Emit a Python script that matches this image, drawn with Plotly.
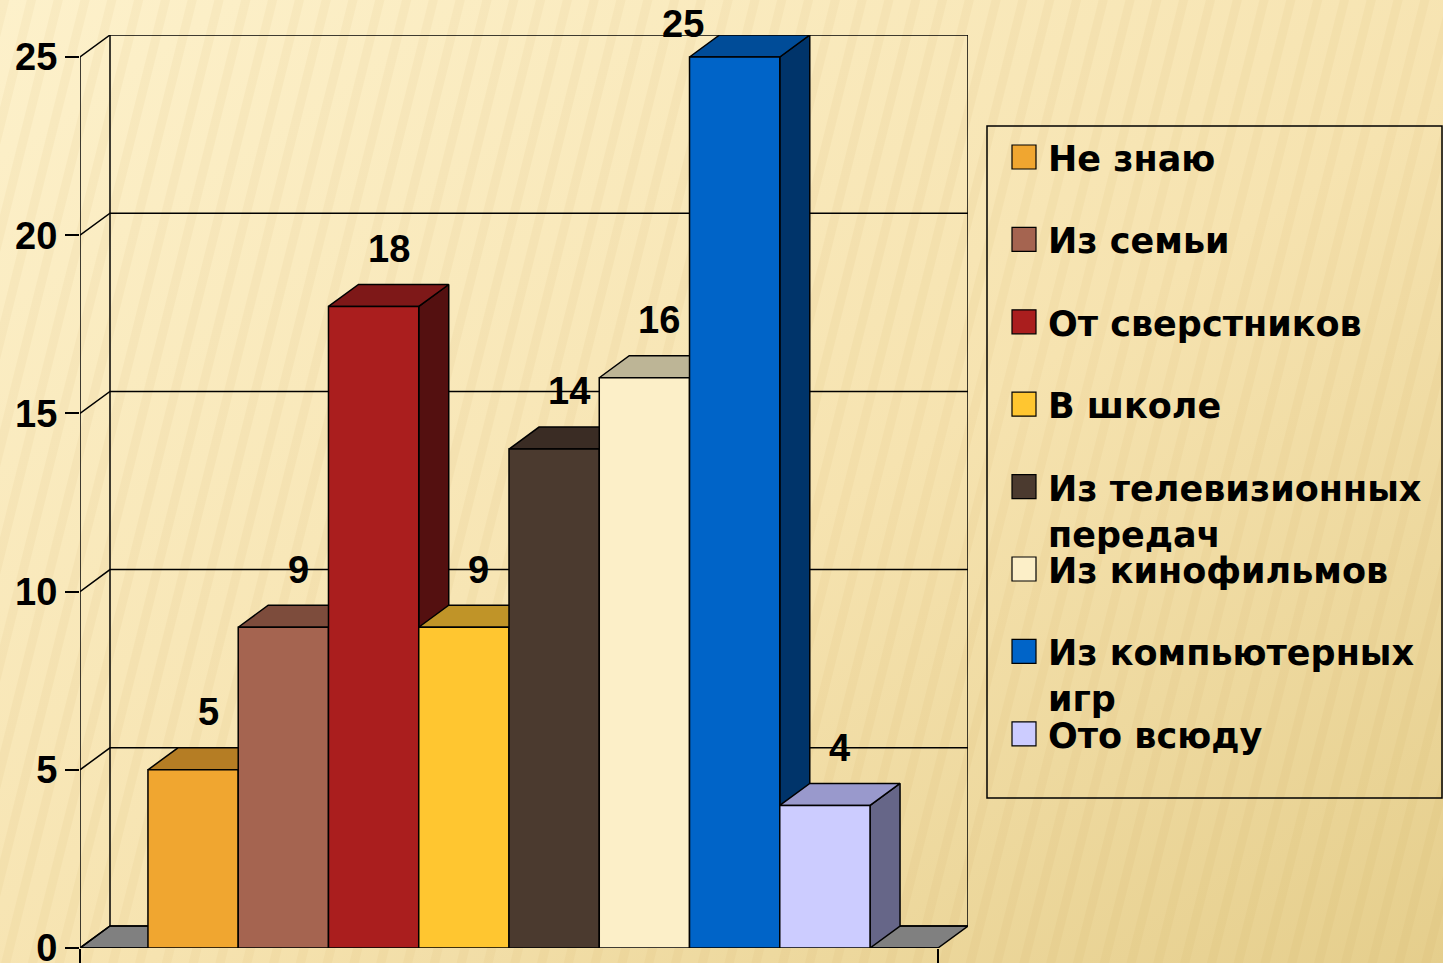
import base64
import plotly.graph_objects as go

# ---------------- data ----------------
categories = ["Не знаю", "Из семьи", "От сверстников", "В школе",
              "Из телевизионных передач", "Из кинофильмов",
              "Из компьютерных игр", "Ото всюду"]
values = [5, 9, 18, 9, 14, 16, 25, 4]
legend_lines = ["Не знаю", "Из семьи", "От сверстников", "В школе",
                "Из телевизионных<br>передач", "Из кинофильмов",
                "Из компьютерных<br>игр", "Ото всюду"]
y_ticks = [0, 5, 10, 15, 20, 25]

front_colors = ["#F0A630", "#A56450", "#AA1E1E", "#FFC630",
                "#4B3A2F", "#FCEFC8", "#0064C8", "#CCCCFF"]
top_colors = ["#B57D24", "#7D4C3C", "#7E1818", "#C09428",
              "#3A2C24", "#BDB596", "#004C98", "#9999CC"]
side_colors = ["#8A5E1A", "#5E392D", "#541010", "#906E1E",
               "#2A201A", "#8E8870", "#00346A", "#666688"]

# ---------------- geometry (style) ----------------
FONT = "Arial, Liberation Sans, sans-serif"
LEG_FONT = "DejaVu Sans, Verdana, sans-serif"
n = len(values)
gap = 0.753          # space between axis and first / last bar (in bar widths)
dx, dy = 0.3324, 0.617   # depth offset of the 3-D box
x0, x1 = -0.5 - gap, n - 0.5 + gap
ymax = max(y_ticks)
ytop = ymax + dy
LW = 1.5

fig = go.Figure()


def poly(xs, ys, fill, name=None, width=LW):
    fig.add_trace(go.Scatter(
        x=xs + [xs[0]], y=ys + [ys[0]], mode="lines", fill="toself",
        fillcolor=fill, line=dict(color="black", width=width),
        hoverinfo="skip" if name is None else "text",
        text=name, showlegend=False))


# floor
poly([x0, x1, x1 + dx, x0 + dx], [0, 0, dy, dy], "#808080")

# walls / gridlines
for t in y_ticks:
    fig.add_trace(go.Scatter(
        x=[x0, x0 + dx, x1 + dx], y=[t, t + dy, t + dy], mode="lines",
        line=dict(color="black", width=LW), hoverinfo="skip", showlegend=False))
for xv in (x0 + dx, x1 + dx):
    fig.add_trace(go.Scatter(
        x=[xv, xv], y=[dy, ytop], mode="lines",
        line=dict(color="black", width=LW), hoverinfo="skip", showlegend=False))
# front value axis line and category axis line
fig.add_trace(go.Scatter(
    x=[x0, x0, x1], y=[ymax, 0, 0], mode="lines",
    line=dict(color="black", width=LW), hoverinfo="skip", showlegend=False))

# 3-D bars, drawn left to right
for i, (cat, v) in enumerate(zip(categories, values)):
    L, R = i - 0.5, i + 0.5
    label = f"{cat}: {v}"
    poly([R, R + dx, R + dx, R], [0, dy, v + dy, v], side_colors[i], label)
    poly([L, R, R + dx, L + dx], [v, v, v + dy, v + dy], top_colors[i], label)
    poly([L, R, R, L], [0, 0, v, v], front_colors[i], label)

annotations = []
# value labels (y converted to the plot's paper fraction so the top one stays)
for i, v in enumerate(values):
    x_lab, y_lab = i + dx / 2, v + dy + 1.0
    if y_lab > ytop + 0.3:        # no room above the top: shift left
        x_lab, y_lab = i - 0.57, ytop + 0.3
    annotations.append(dict(xref="x", yref="paper", x=x_lab, y=y_lab / ytop,
                            text=str(v), showarrow=False,
                            xanchor="center", yanchor="middle",
                            font=dict(family=FONT, size=38, color="black",
                                      weight="bold")))

# ---------------- background ----------------
svg = """<svg xmlns='http://www.w3.org/2000/svg' width='1443' height='963'>
<defs>
<linearGradient id='g' x1='0' y1='0' x2='1' y2='1'>
<stop offset='0' stop-color='#FDF1CB'/><stop offset='0.55' stop-color='#F6E3B0'/>
<stop offset='1' stop-color='#E5CE8C'/></linearGradient>
<pattern id='p' width='26' height='2000' patternUnits='userSpaceOnUse' patternTransform='rotate(14)'>
<rect x='0' width='9' height='2000' fill='#B08A30' opacity='0.06'/></pattern>
</defs>
<rect width='1443' height='963' fill='url(#g)'/>
<rect width='1443' height='963' fill='url(#p)'/>
</svg>"""
src = "data:image/svg+xml;base64," + base64.b64encode(svg.encode()).decode()

# plot area in pixels: x 80..968, y 35..948
PL, PR, PT, PB = 80, 968, 35, 948
W, H = 1443, 963
pw, ph = PR - PL, PB - PT


def px(xp):
    return (xp - PL) / pw


def py(yp):
    return (PB - yp) / ph


fig.add_layout_image(dict(source=src, xref="paper", yref="paper",
                          x=px(0), y=py(0), sizex=W / pw, sizey=H / ph,
                          xanchor="left", yanchor="top", sizing="stretch",
                          layer="below"))

# ---------------- legend (manual, fixed row pitch) ----------------
shapes = [dict(type="rect", xref="paper", yref="paper",
               x0=px(987), x1=px(1442), y0=py(798), y1=py(126),
               line=dict(color="black", width=LW), fillcolor="rgba(0,0,0,0)")]
row0, pitch = 157, 82.4
for i, txt in enumerate(legend_lines):
    cy = row0 + i * pitch
    shapes.append(dict(type="rect", xref="paper", yref="paper",
                       x0=px(1012), x1=px(1036), y0=py(cy + 12), y1=py(cy - 12),
                       line=dict(color="black", width=1.2),
                       fillcolor=front_colors[i]))
    annotations.append(dict(xref="paper", yref="paper", x=px(1046), y=py(cy - 20),
                            xanchor="left", yanchor="top", align="left",
                            text=txt, showarrow=False,
                            font=dict(family=LEG_FONT, size=35, color="black",
                                      weight="bold")))

fig.update_layout(
    width=W, height=H,
    margin=dict(l=PL, r=W - PR, t=PT, b=H - PB, pad=0, autoexpand=False),
    paper_bgcolor="#F6E3B0", plot_bgcolor="rgba(0,0,0,0)",
    shapes=shapes, annotations=annotations, showlegend=False,
    xaxis=dict(range=[x0, x1 + dx], showgrid=False, zeroline=False,
               showline=False, tickvals=[x0, x1], ticktext=["", ""],
               ticks="outside", ticklen=14, tickwidth=LW, tickcolor="black",
               automargin=False, fixedrange=True),
    yaxis=dict(range=[0, ytop], showgrid=False, zeroline=False,
               showline=False, tickvals=y_ticks, ticks="outside", ticklen=14,
               tickwidth=LW, tickcolor="black", ticklabelstandoff=0,
               ticklabeloverflow="allow",
               tickfont=dict(family=FONT, size=38, color="black", weight="bold"),
               automargin=False, fixedrange=True),
)

fig.write_html("out.html", config={"displayModeBar": False},
               post_script="document.body.style.margin='0';"
                           "document.body.style.overflow='hidden';")
